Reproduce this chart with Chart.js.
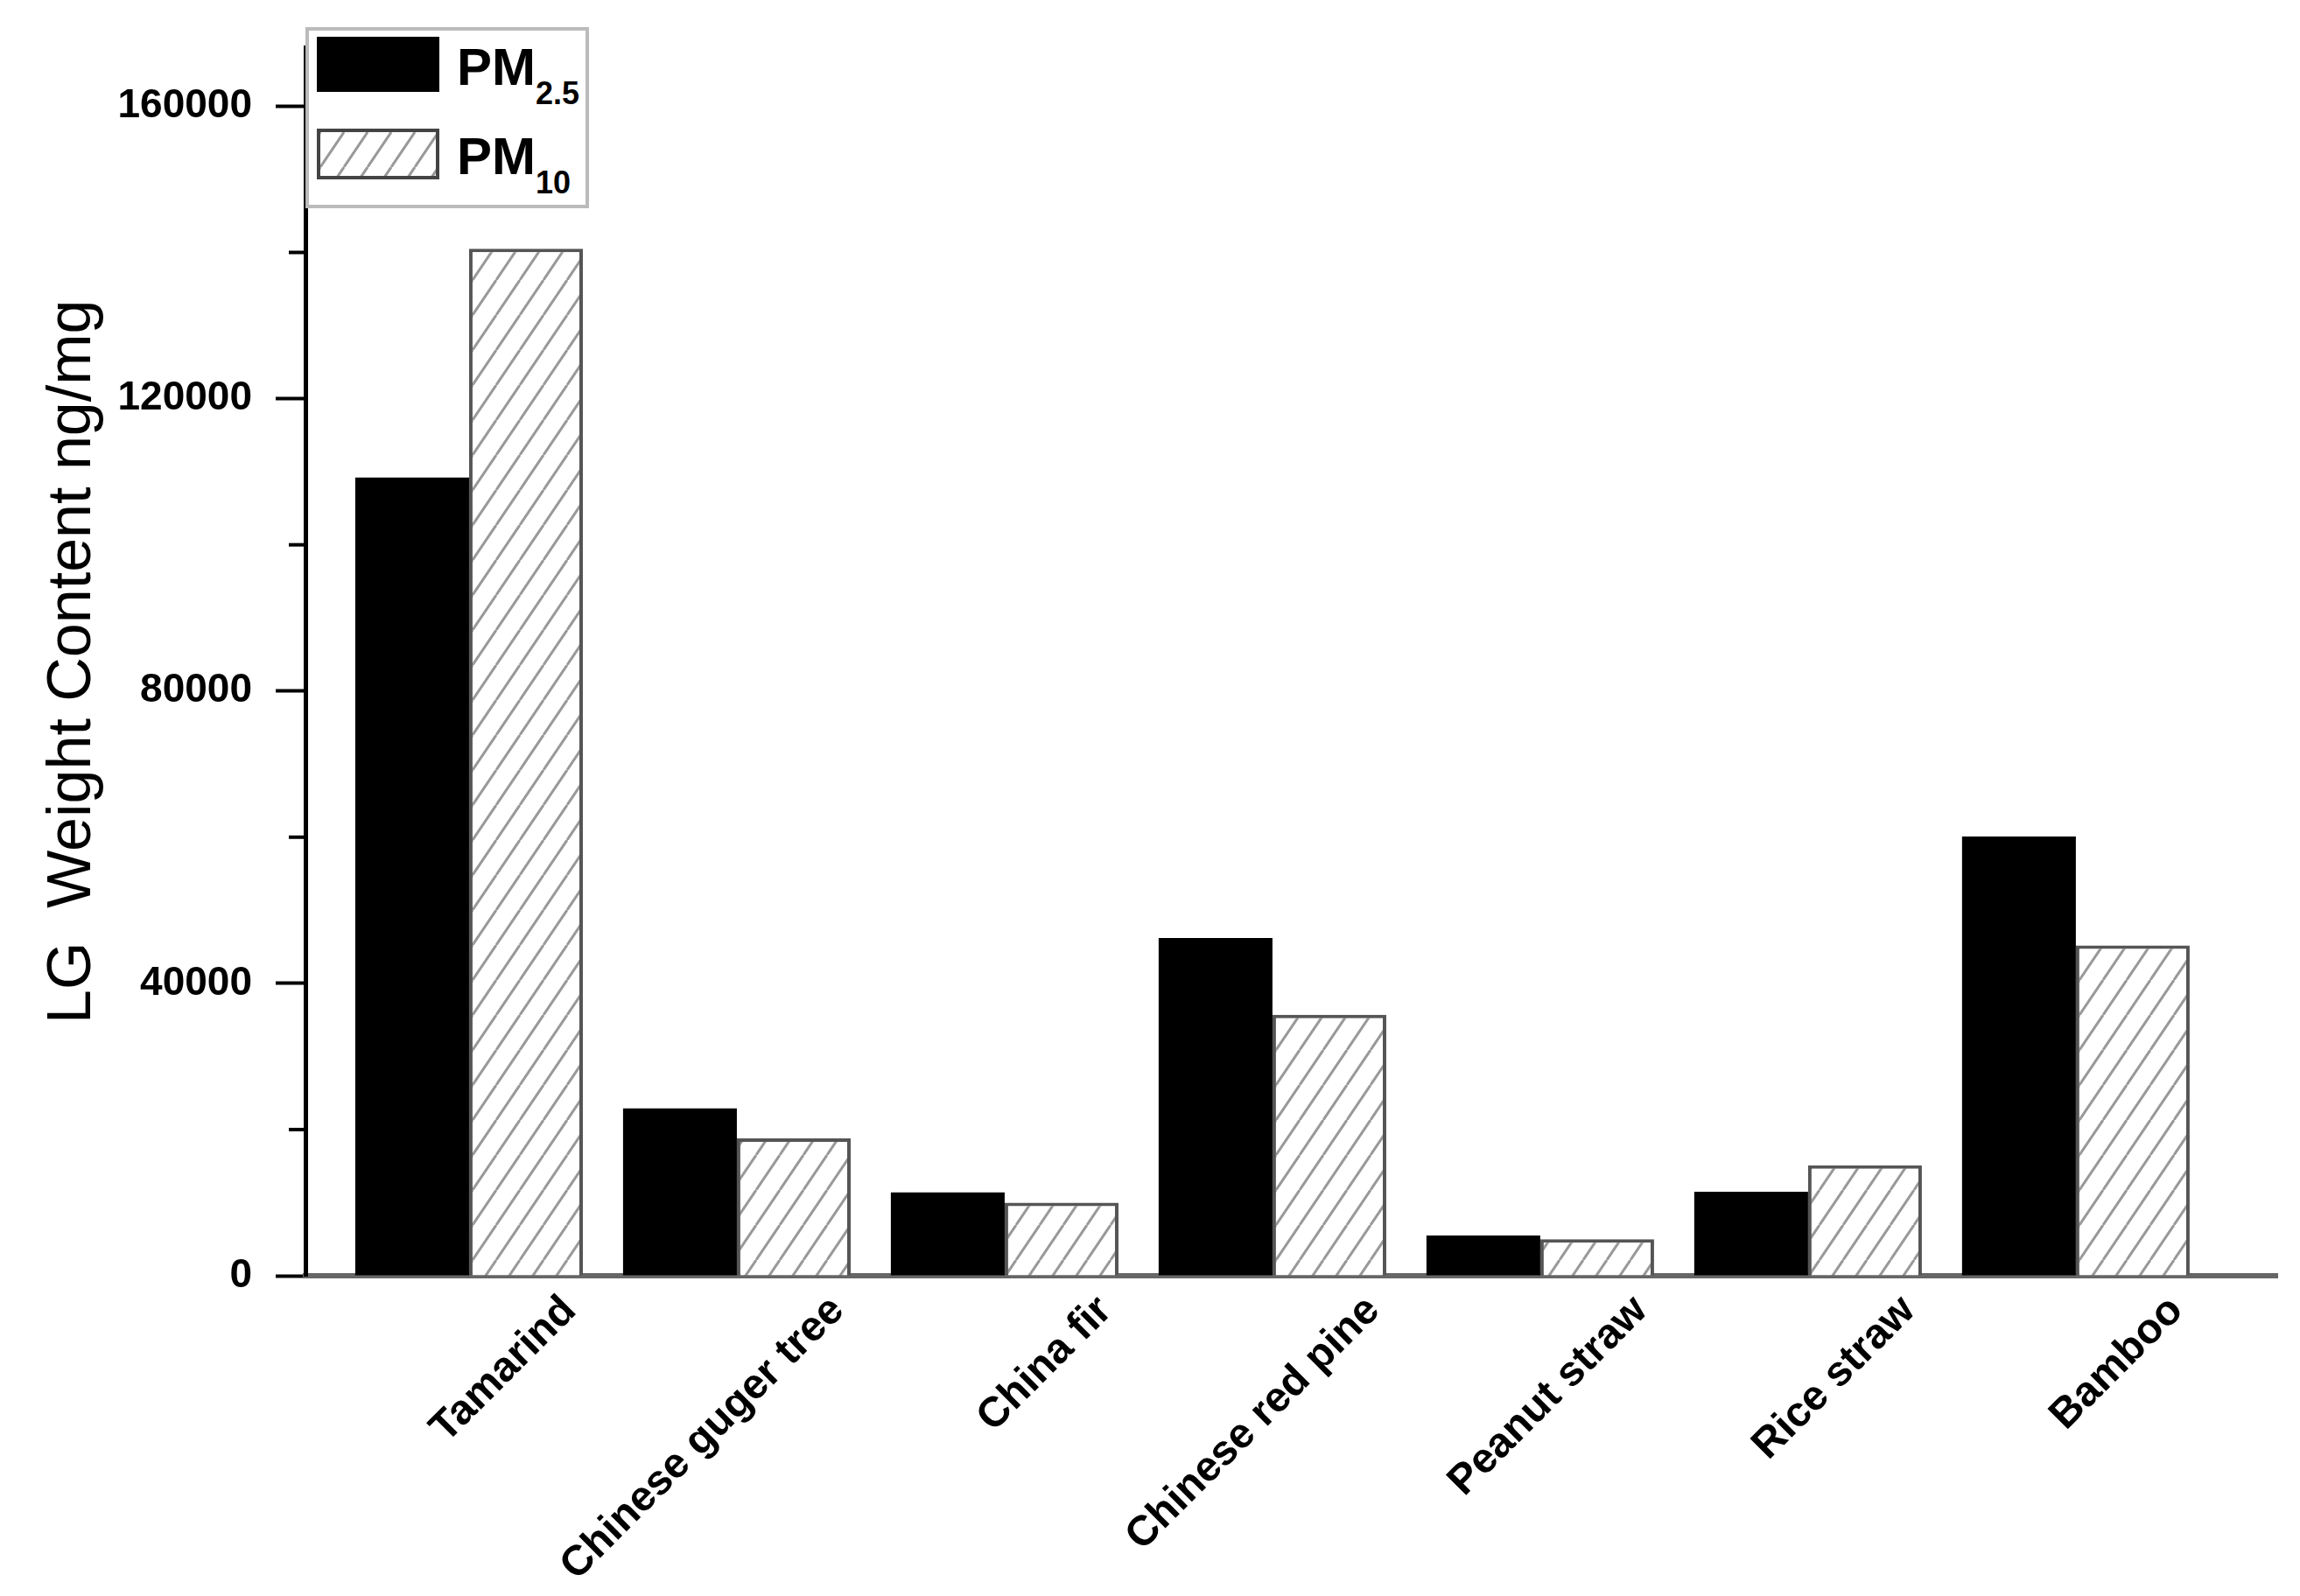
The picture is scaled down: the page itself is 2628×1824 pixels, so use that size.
<!DOCTYPE html>
<html>
<head>
<meta charset="utf-8">
<script src="https://cdn.jsdelivr.net/npm/chart.js@4/dist/chart.umd.min.js"></script>
<style>
  html, body { margin: 0; padding: 0; background: #fff; }
  #wrap { position: relative; width: 2628px; height: 1824px; }
  #legend { position: absolute; left: 349px; top: 31px; width: 316px; height: 199px;
            border: 4px solid #bbb; background: #fff; }
  .sw { position: absolute; left: 9px; width: 140px; box-sizing: border-box; }
  .txt { position: absolute; left: 169px; font: bold 60px 'Liberation Sans', Arial, sans-serif;
         line-height: 60px; color: #000; white-space: nowrap; }
  .txt span { position: relative; top: 22px; font-size: 36px; }
</style>
</head>
<body>
<div id="wrap">
  <canvas id="chart" width="2628" height="1824"></canvas>
  <div id="legend"></div>
</div>
<script>
const categories = ['Tamarind', 'Chinese guger tree', 'China fir', 'Chinese red pine', 'Peanut straw', 'Rice straw', 'Bamboo'];
const pm25 = [109200, 22900, 11400, 46200, 5500, 11500, 60100];
const pm10 = [140500, 18800, 10000, 35700, 5000, 15100, 45200];
const yTicks = [0, 40000, 80000, 120000, 160000];
const yMinorTicks = [20000, 60000, 100000, 140000];

// diagonal hatch tile used for PM10 bars and legend swatch
function hatchTile() {
    const w = 27, h = 40;
    const c = document.createElement('canvas');
    c.width = w; c.height = h;
    const g = c.getContext('2d');
    g.fillStyle = '#fff';
    g.fillRect(0, 0, w, h);
    g.strokeStyle = '#999';
    g.lineWidth = 3;
    for (let k = -1; k <= 1; k++) {
        g.beginPath();
        g.moveTo(k * w, h);
        g.lineTo(k * w + w, 0);
        g.stroke();
    }
    return c;
}

const tile = hatchTile();
const canvas = document.getElementById('chart');
const hatch = canvas.getContext('2d').createPattern(tile, 'repeat');

// legend drawn in HTML so subscripts stay real text
const legend = document.getElementById('legend');
legend.innerHTML = `
  <div class="sw" style="top:7px;height:63px;background:#000;"></div>
  <div class="txt" style="top:12px;">PM<span>2.5</span></div>
  <div class="sw" style="top:112px;height:58px;border:4px solid #444;background-image:url(${tile.toDataURL()});"></div>
  <div class="txt" style="top:114px;">PM<span>10</span></div>`;

const minorTicks = {
    id: 'minorTicks',
    afterDraw(chart) {
        const y = chart.scales.y;
        const ctx = chart.ctx;
        ctx.save();
        ctx.strokeStyle = '#000';
        ctx.lineWidth = 4;
        yMinorTicks.forEach(v => {
            const py = y.getPixelForValue(v);
            ctx.beginPath();
            ctx.moveTo(y.right - 19, py);
            ctx.lineTo(y.right, py);
            ctx.stroke();
        });
        ctx.restore();
    },
};

Chart.defaults.color = '#000';
Chart.defaults.font.family = "'Liberation Sans', Arial, sans-serif";

new Chart(canvas, {
    type: 'bar',
    data: {
        datasets: [{
            label: 'PM2.5',
            data: pm25.map((v, i) => ({ x: i, y: v })),
            backgroundColor: '#000',
            borderColor: '#000',
            borderWidth: 0,
        }, {
            label: 'PM10',
            data: pm10.map((v, i) => ({ x: i, y: v })),
            backgroundColor: hatch,
            borderColor: '#555',
            borderWidth: 4,
        }],
    },
    options: {
        responsive: false,
        animation: false,
        categoryPercentage: 0.85,
        barPercentage: 1.0,
        layout: { padding: { top: 50, right: 26, left: 0, bottom: 0 } },
        plugins: {
            legend: { display: false },
            tooltip: { enabled: false },
        },
        scales: {
            x: {
                type: 'linear',
                offset: false,
                min: -0.611,
                max: 6.752,
                afterBuildTicks: s => { s.ticks = categories.map((_, i) => ({ value: i })); },
                afterFit: s => { s.height = 366; },
                grid: { drawOnChartArea: false, drawTicks: false },
                border: { color: '#666', width: 6 },
                ticks: {
                    callback: v => categories[v],
                    minRotation: 45,
                    maxRotation: 45,
                    labelOffset: 115,
                    padding: 12,
                    font: { size: 48, weight: 'bold' },
                },
            },
            y: {
                min: 0,
                max: 168000,
                afterBuildTicks: s => { s.ticks = yTicks.map(v => ({ value: v })); },
                afterFit: s => { s.width = 349; },
                grid: { drawOnChartArea: false, tickLength: 34, tickWidth: 4, tickColor: '#000' },
                border: { color: '#000', width: 5 },
                ticks: {
                    callback: v => String(v),
                    padding: 27,
                    font: { size: 46, weight: 'bold' },
                },
                title: {
                    display: true,
                    text: 'LG  Weight Content ng/mg',
                    font: { size: 70 },
                    padding: { top: 42 },
                },
            },
        },
    },
    plugins: [minorTicks],
});
</script>
</body>
</html>
